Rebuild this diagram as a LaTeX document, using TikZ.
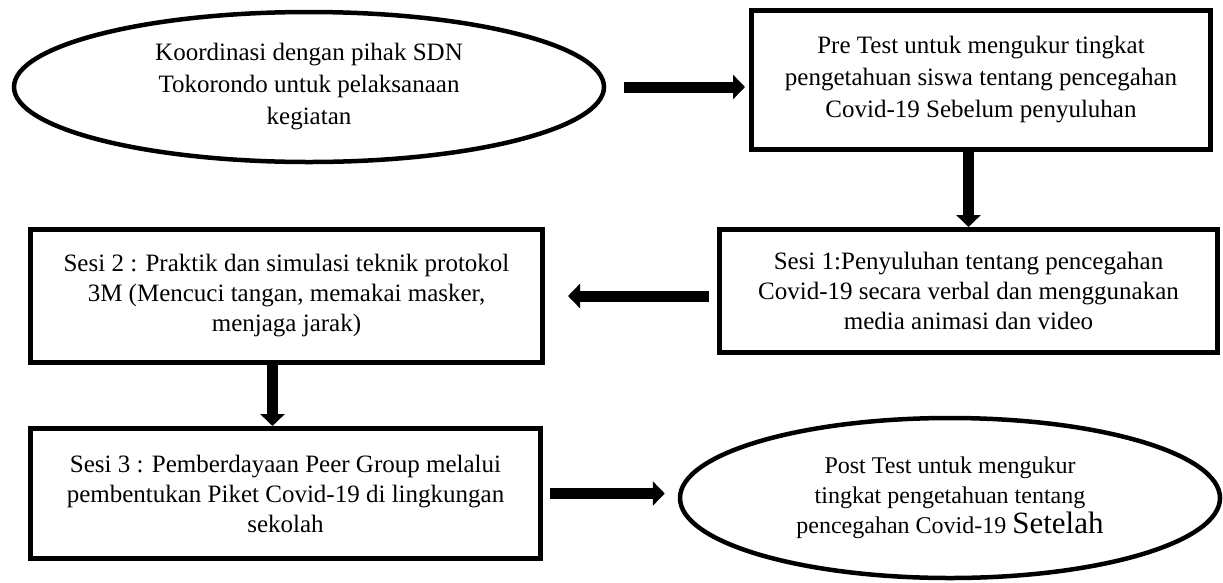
\documentclass[tikz,border=0pt]{standalone}
\usepackage{fontspec}
\setmainfont{Liberation Serif}
\usetikzlibrary{shapes.geometric, arrows.meta}

\tikzset{
	box/.style={draw, line width=5pt, rectangle, align=center, inner sep=0pt, font=\fontsize{25}{30}\selectfont},
	oval/.style={draw, line width=4.5pt, ellipse, align=center, inner sep=0pt, font=\fontsize{25}{32}\selectfont},
	flow/.style={line width=11pt, -{Triangle[length=12pt, width=24pt]}}
}

\begin{document}
\begin{tikzpicture}[x=1pt, y=-1pt]
	
	\useasboundingbox (0,0) rectangle (1223,582);
	
	\node [oval, minimum width=590pt, minimum height=150pt] (koordinasi) at (309,87) {Koordinasi dengan pihak SDN\\Tokorondo untuk pelaksanaan\\kegiatan};
	\node [box, minimum width=459pt, minimum height=139pt, font=\fontsize{25}{32}\selectfont] (pretest) at (981,80) {Pre Test untuk mengukur tingkat\\pengetahuan siswa tentang pencegahan\\Covid-19 Sebelum penyuluhan};
	
	\node [box, minimum width=498pt, minimum height=123pt] (sesi1) at (968.5,291) {Sesi 1:Penyuluhan tentang pencegahan\\Covid-19 secara verbal dan menggunakan\\media animasi dan video};
	\node [box, minimum width=512pt, minimum height=133pt] (sesi2) at (286.5,296) {Sesi 2 : Praktik dan simulasi teknik protokol\\3M (Mencuci tangan, memakai masker,\\menjaga jarak)};
	
	\node [box, minimum width=510pt, minimum height=130pt] (sesi3) at (285.5,493.5) {Sesi 3 : Pemberdayaan Peer Group melalui\\pembentukan Piket Covid-19 di lingkungan\\sekolah};
	\node [oval, minimum width=540pt, minimum height=160pt, font=\fontsize{24}{30}\selectfont] (posttest) at (950,498) {Post Test untuk mengukur\\tingkat pengetahuan tentang\\pencegahan Covid-19 {\fontsize{31}{30}\selectfont Setelah}};
	
	\draw [flow, shorten <=18pt, shorten >=4pt] (koordinasi.east) -- (pretest.west |- koordinasi.east);
	\draw [flow] (pretest.south -| sesi1.north) -- (sesi1.north);
	\draw [flow, shorten <=8pt, shorten >=23pt] (sesi1.west |- sesi2.east) -- (sesi2.east);
	\draw [flow] ([xshift=-14pt]sesi2.south) -- ([xshift=-14pt]sesi2.south |- sesi3.north);
	\draw [flow, shorten <=7pt, shorten >=13pt] (sesi3.east) -- (posttest.west |- sesi3.east);
	
\end{tikzpicture}
\end{document}
